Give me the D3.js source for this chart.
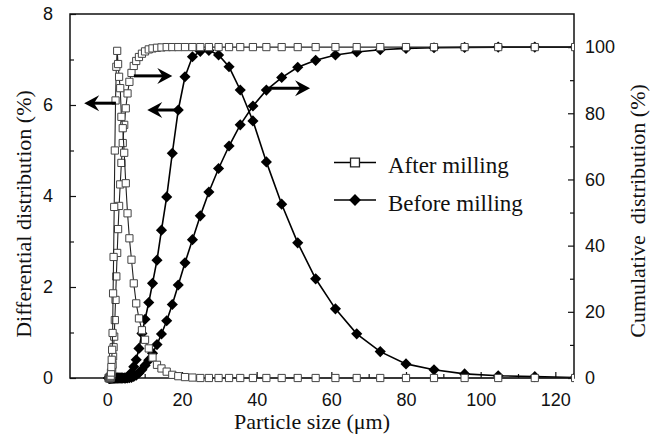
<!DOCTYPE html>
<html>
<head>
<meta charset="utf-8">
<script src="https://cdn.jsdelivr.net/npm/d3@7/dist/d3.min.js"></script>
<style>
  body { margin: 0; background: #fff; }
  svg text { font-family: "Liberation Serif", "Times New Roman", serif; fill: #111; }
  .tick text { font-family: "Liberation Sans", Arial, sans-serif; font-size: 18px; fill: #111; }
</style>
</head>
<body>
<svg id="chart" width="658" height="437"></svg>
<script>
// particle size classes (um)
var sizes = [0.40, 0.44, 0.48, 0.52, 0.57, 0.63, 0.69, 0.75, 0.82, 0.90,
  0.98, 1.08, 1.18, 1.29, 1.41, 1.54, 1.68, 1.84, 2.01, 2.20,
  2.41, 2.64, 2.88, 3.15, 3.45, 3.77, 4.13, 4.52, 4.94, 5.41,
  5.91, 6.47, 7.08, 7.74, 8.47, 9.27, 10.1, 11.1, 12.1, 13.3,
  14.5, 15.9, 17.4, 19.0, 20.8, 22.8, 24.9, 27.2, 29.8, 32.6,
  35.6, 39.0, 42.6, 46.7, 51.0, 55.8, 61.1, 66.8, 73.1, 80.0,
  87.5, 95.7, 104.7, 114.5, 125.3]

// after milling: differential (%) and cumulative (%)
var afterDiff = [0, 0, 0, 0, 0, 0, 0, 0.01, 0.02, 0.05,
  0.12, 0.24, 0.40, 0.62, 0.99, 1.86, 2.66, 3.76, 5.0, 6.1,
  6.84, 7.19, 6.9, 6.62, 6.37, 5.74, 5.49, 4.95, 4.28, 3.62,
  3.07, 2.6, 2.08, 1.64, 1.31, 1.05, 0.84, 0.65, 0.45, 0.29,
  0.21, 0.14, 0.07, 0.04, 0.02, 0.01, 0, 0, 0, 0,
  0, 0, 0, 0, 0, 0, 0, 0, 0, 0,
  0, 0, 0, 0, 0]
var afterCum = [0, 0, 0, 0, 0, 0, 0, 0, 0.05, 0.1,
  0.3, 0.8, 1.5, 2.5, 4, 6.5, 9.3, 12.5, 17.5, 23.6,
  30.7, 37.8, 45, 52, 58.5, 65, 71, 76.5, 81.5, 86,
  89.5, 92.2, 94.3, 95.8, 97, 98, 98.7, 99.3, 99.6, 99.8,
  99.9, 100, 100, 100, 100, 100, 100, 100, 100, 100,
  100, 100, 100, 100, 100, 100, 100, 100, 100, 100,
  100, 100, 100, 100, 100]

// before milling: differential (%) and cumulative (%)
var beforeDiff = [0, 0, 0, 0, 0, 0, 0, 0, 0, 0,
  0, 0, 0, 0, 0, 0, 0, 0, 0, 0,
  0, 0, 0, 0, 0, 0, 0, 0, 0, 0.02,
  0.05, 0.12, 0.25, 0.40, 0.65, 0.98, 1.29, 1.66, 2.08, 2.59,
  3.25, 3.98, 4.94, 5.89, 6.62, 7.06, 7.18, 7.2, 7.1, 6.84,
  6.33, 5.65, 4.75, 3.82, 2.97, 2.18, 1.52, 0.97, 0.58, 0.31,
  0.18, 0.09, 0.05, 0.03, 0.01]
var beforeCum = [0, 0, 0, 0, 0, 0, 0, 0, 0, 0,
  0, 0, 0, 0, 0, 0, 0, 0, 0, 0,
  0, 0, 0, 0, 0, 0, 0, 0, 0, 0.02,
  0.07, 0.2, 0.45, 0.85, 1.5, 2.5, 3.8, 5.4, 7.5, 10.1,
  13.3, 17.3, 22.2, 28.1, 34.8, 41.8, 49, 56.2, 63.3, 70.1,
  76.5, 82.2, 87, 90.8, 93.9, 96, 97.6, 98.5, 99.2, 99.6,
  99.8, 99.9, 100, 100, 100]

var xTicks = [0, 20, 40, 60, 80, 100, 120]
var leftTicks = [0, 2, 4, 6, 8]
var rightTicks = [0, 20, 40, 60, 80, 100]
var legendLabels = ['After milling', 'Before milling']

// arrows telling which axis a curve belongs to (x from -> x to, at left-axis value y)
var arrows = [
  { from: 2.3, to: -6.2, y: 6.04 },
  { from: 7.1, to: 17.4, y: 6.64 },
  { from: 19.2, to: 10.7, y: 5.89 },
  { from: 42.9, to: 54.3, y: 6.37 }
]

function drawChart() {
  var plotLeft = 70, plotRight = 574, plotTop = 14, plotBottom = 378

  var svg = d3.select('#chart')

  var x = d3.scaleLinear().domain([-10, 125]).range([plotLeft, plotRight])
  var yL = d3.scaleLinear().domain([0, 8]).range([plotBottom, plotTop])
  var yR = d3.scaleLinear().domain([0, 110]).range([plotBottom, plotTop])

  svg.append('defs').append('clipPath').attr('id', 'clip')
    .append('rect').attr('x', plotLeft).attr('y', 0).attr('width', plotRight - plotLeft).attr('height', 437)

  // axes, ticks inside the box
  svg.append('g').attr('transform', `translate(0, ${plotBottom})`)
    .call(d3.axisBottom(x).tickValues(xTicks).tickSize(-6).tickPadding(15).tickFormat(d3.format('d')))
  svg.append('g').attr('transform', `translate(0, ${plotBottom})`)
    .call(d3.axisBottom(x).tickValues(d3.range(10, 121, 20)).tickSize(-4).tickFormat(''))

  svg.append('g').attr('transform', `translate(${plotLeft}, 0)`)
    .call(d3.axisLeft(yL).tickValues(leftTicks).tickSize(-6).tickPadding(17).tickFormat(d3.format('d')))
  svg.append('g').attr('transform', `translate(${plotLeft}, 0)`)
    .call(d3.axisLeft(yL).tickValues([1, 3, 5, 7]).tickSize(-4).tickFormat(''))

  svg.append('g').attr('transform', `translate(${plotRight}, 0)`)
    .call(d3.axisRight(yR).tickValues(rightTicks).tickSize(-6).tickPadding(11).tickFormat(d3.format('d')))
  svg.append('g').attr('transform', `translate(${plotRight}, 0)`)
    .call(d3.axisRight(yR).tickValues(d3.range(10, 91, 20)).tickSize(-4).tickFormat(''))

  svg.selectAll('.domain').remove()
  svg.selectAll('.tick line').attr('stroke', '#111').attr('stroke-width', 1.2)

  svg.append('rect')
    .attr('x', plotLeft).attr('y', plotTop)
    .attr('width', plotRight - plotLeft).attr('height', plotBottom - plotTop)
    .attr('fill', 'none').attr('stroke', '#111').attr('stroke-width', 1.5)

  // series
  var plot = svg.append('g').attr('clip-path', 'url(#clip)')

  var diamond = d3.symbol().type(d3.symbolSquare).size(62)
  var square = d3.symbol().type(d3.symbolSquare).size(52)

  function drawSeries(values, yScale, kind) {
    var pts = sizes.map(function(s, i) {
      return [x(s), yScale(values[i])]
    })
    var g = plot.append('g')

    g.append('path')
      .attr('d', d3.line()(pts))
      .attr('fill', 'none')
      .attr('stroke', kind == 'before' ? '#000' : '#222')
      .attr('stroke-width', kind == 'before' ? 1.6 : 1.1)

    g.selectAll('path.mark').data(pts).enter().append('path')
      .attr('class', 'mark')
      .attr('transform', function(d) {
        if (kind == 'before') {
          return `translate(${d[0]}, ${d[1]}) rotate(45)`
        }
        return `translate(${d[0]}, ${d[1]})`
      })
      .attr('d', kind == 'before' ? diamond() : square())
      .attr('fill', kind == 'before' ? '#000' : '#fff')
      .attr('stroke', kind == 'before' ? 'none' : '#444')
      .attr('stroke-width', 1)
  }

  drawSeries(beforeCum, yR, 'before')
  drawSeries(beforeDiff, yL, 'before')
  drawSeries(afterCum, yR, 'after')
  drawSeries(afterDiff, yL, 'after')

  // arrows
  arrows.forEach(function(a) {
    var x0 = x(a.from), x1 = x(a.to), yy = yL(a.y)
    var dir = x1 > x0 ? 1 : -1
    var len = 15, half = 8
    svg.append('line')
      .attr('x1', x0).attr('x2', x1 - dir * len * 0.6)
      .attr('y1', yy).attr('y2', yy)
      .attr('stroke', '#000').attr('stroke-width', 3)
    svg.append('path')
      .attr('d', `M${x1},${yy} L${x1 - dir * len},${yy - half} L${x1 - dir * len * 0.65},${yy} L${x1 - dir * len},${yy + half} Z`)
      .attr('fill', '#000')
  })

  // legend
  var legendSquare = d3.symbol().type(d3.symbolSquare).size(80)
  var legendDiamond = d3.symbol().type(d3.symbolSquare).size(70)
  legendLabels.forEach(function(label, i) {
    var ly = i == 0 ? 162.5 : 200
    var g = svg.append('g')
    g.append('line')
      .attr('x1', 334).attr('x2', 376).attr('y1', ly).attr('y2', ly)
      .attr('stroke', '#000').attr('stroke-width', 1.6)
    g.append('path')
      .attr('transform', i == 0 ? `translate(355, ${ly})` : `translate(355, ${ly}) rotate(45)`)
      .attr('d', i == 0 ? legendSquare() : legendDiamond())
      .attr('fill', i == 0 ? '#fff' : '#000')
      .attr('stroke', i == 0 ? '#222' : 'none')
      .attr('stroke-width', 1.3)
    g.append('text')
      .attr('x', 388).attr('y', ly + 5.5)
      .attr('dominant-baseline', 'middle')
      .style('font-size', '23px')
      .text(label)
  })

  // axis titles
  svg.append('text')
    .attr('x', 312).attr('y', 429)
    .attr('text-anchor', 'middle')
    .style('font-size', '22px')
    .text('Particle size (\u03bcm)')

  svg.append('text')
    .attr('transform', 'translate(31, 214) rotate(-90)')
    .attr('text-anchor', 'middle')
    .style('font-size', '22px')
    .text('Differential distribution (%)')

  svg.append('text')
    .attr('transform', 'translate(645, 211) rotate(-90)')
    .attr('text-anchor', 'middle')
    .style('font-size', '22px')
    .style('white-space', 'pre')
    .text('Cumulative  distribution (%)')
}

drawChart()
</script>
</body>
</html>
